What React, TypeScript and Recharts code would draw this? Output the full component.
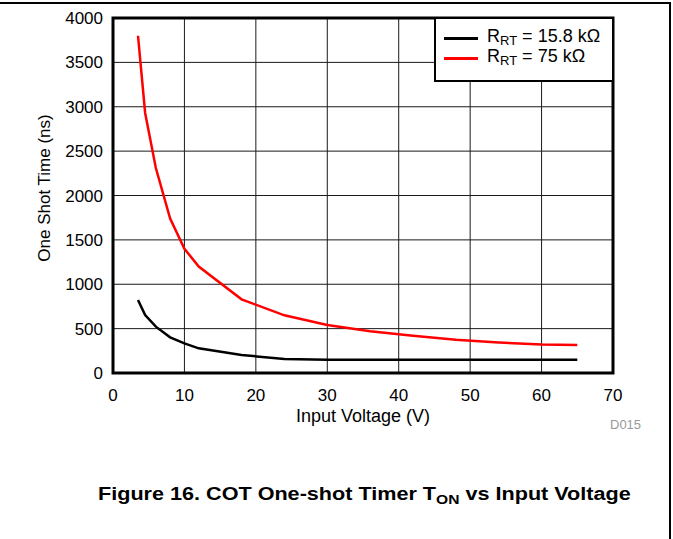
import React from 'react';
import {
    LineChart,
    Line,
    XAxis,
    YAxis,
    CartesianGrid,
    ReferenceArea,
    Label,
} from 'recharts';

const FONT = '"Liberation Sans", Arial, Helvetica, sans-serif';

// input voltage (V)
const voltages = [3.5, 4.5, 6, 8, 10, 12, 18, 24, 30, 36, 42, 48, 54, 60, 65];
// one shot time (ns), R_RT = 15.8 kOhm
const rt158 = [822, 653, 522, 402, 334, 278, 203, 158, 148, 148, 148, 148, 148, 148, 148];
// one shot time (ns), R_RT = 75 kOhm
const rt75 = [3800, 2930, 2310, 1740, 1400, 1200, 830, 650, 541, 470, 420, 375, 343, 320, 315];

const xTicks = [0, 10, 20, 30, 40, 50, 60, 70];
const yTicks = [0, 500, 1000, 1500, 2000, 2500, 3000, 3500, 4000];

const seriesInfo = [
    { key: 'rt158', value: '15.8 k\u03a9', color: '#000000' },
    { key: 'rt75', value: '75 k\u03a9', color: '#ff0000' },
];

const data = voltages.map((v, i) => ({ v, rt158: rt158[i], rt75: rt75[i] }));

function LegendBox() {
    return (
        <div
            style={{
                position: 'absolute',
                left: 434,
                top: 17,
                width: 180,
                height: 65,
                boxSizing: 'border-box',
                border: '2.5px solid #000',
                background: '#fff',
                fontFamily: FONT,
                fontSize: 18,
                color: '#000',
                paddingTop: 10,
            }}
        >
            {seriesInfo.map((s) => (
                <div key={s.key} style={{ display: 'flex', alignItems: 'center', height: 19.5 }}>
                    <div style={{ width: 34, height: 3, background: s.color, marginLeft: 8, marginRight: 9 }} />
                    <span style={{ lineHeight: '20px' }}>
                        R<sub style={{ fontSize: 13, verticalAlign: -3 }}>RT</sub> = {s.value}
                    </span>
                </div>
            ))}
        </div>
    );
}

export default function App() {
    return (
        <div style={{ position: 'absolute', left: 0, top: 0, width: 673, height: 539, background: '#fff', fontFamily: FONT }}>
            <div style={{ position: 'absolute', left: 0, top: 2, width: 670, height: 1.5, background: '#000' }} />
            <div style={{ position: 'absolute', left: 669, top: 2, width: 1.5, height: 537, background: '#000' }} />

            <LineChart width={673} height={539} data={data} margin={{ top: 18, right: 60, bottom: 126, left: 0 }}>
                <CartesianGrid stroke="#1a1a1a" strokeWidth={1} horizontalValues={yTicks} verticalValues={xTicks} />
                <XAxis
                    dataKey="v"
                    type="number"
                    domain={[0, 70]}
                    ticks={xTicks}
                    height={40}
                    axisLine={false}
                    tickLine={false}
                    tickMargin={10}
                    tick={{ fill: '#000', fontSize: 17, fontFamily: FONT }}
                >
                    <Label
                        content={() => (
                            <text x={363} y={422} textAnchor="middle" fontSize={18} fontFamily={FONT} fill="#000">
                                Input Voltage (V)
                            </text>
                        )}
                    />
                </XAxis>
                <YAxis
                    type="number"
                    domain={[0, 4000]}
                    ticks={yTicks}
                    width={113}
                    axisLine={false}
                    tickLine={false}
                    tickMargin={4}
                    tick={{ fill: '#000', fontSize: 17, fontFamily: FONT }}
                >
                    <Label
                        content={() => (
                            <text
                                x={44}
                                y={188}
                                textAnchor="middle"
                                dominantBaseline="central"
                                transform="rotate(-90 44 188)"
                                fontSize={17}
                                fontFamily={FONT}
                                fill="#000"
                            >
                                One Shot Time (ns)
                            </text>
                        )}
                    />
                </YAxis>
                {seriesInfo.map((s) => (
                    <Line
                        key={s.key}
                        dataKey={s.key}
                        type="linear"
                        stroke={s.color}
                        strokeWidth={2.5}
                        dot={false}
                        isAnimationActive={false}
                    />
                ))}
                <ReferenceArea x1={0} x2={70} y1={0} y2={4000} fill="none" stroke="#000" strokeWidth={3} ifOverflow="visible" />
            </LineChart>

            <LegendBox />

            <div style={{ position: 'absolute', left: 610, top: 417, fontSize: 13, color: '#999', fontFamily: FONT }}>D015</div>
            <div
                style={{
                    position: 'absolute',
                    left: 98,
                    top: 484,
                    fontSize: 18,
                    fontWeight: 'bold',
                    color: '#000',
                    fontFamily: FONT,
                    whiteSpace: 'nowrap',
                    transform: 'scaleX(1.2)',
                    transformOrigin: 'left top',
                }}
            >
                Figure 16. COT One-shot Timer T<sub style={{ fontSize: 13, verticalAlign: -4 }}>ON</sub> vs Input Voltage
            </div>
        </div>
    );
}
